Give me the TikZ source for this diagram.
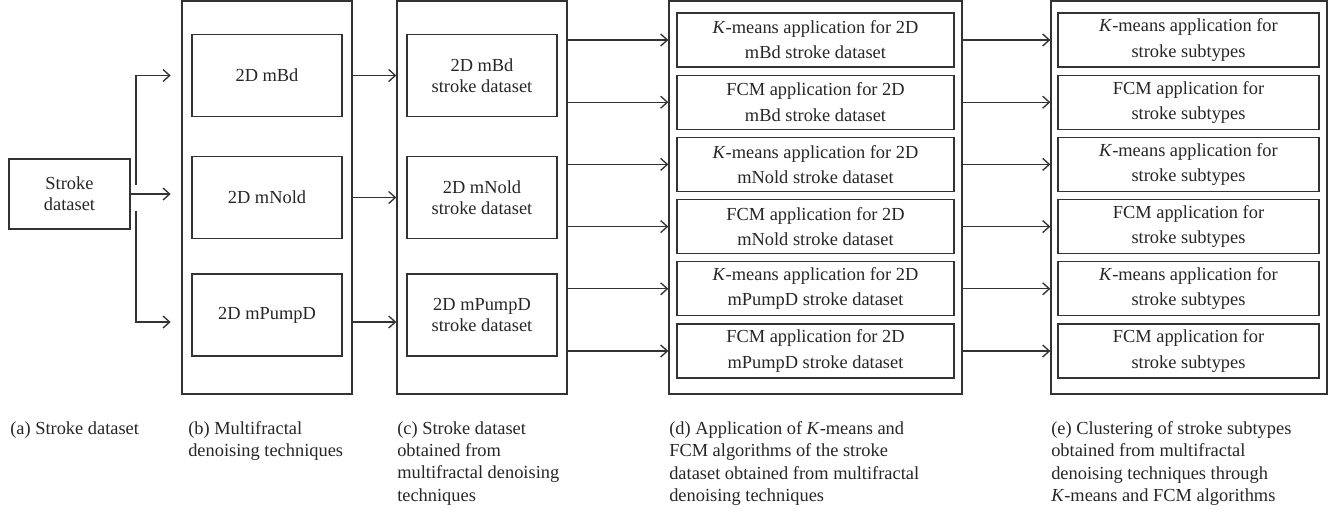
\documentclass[tikz,border=0pt]{standalone}
\usepackage{fontspec}
\setmainfont{Liberation Serif}
\usepackage{xcolor}
\usetikzlibrary{arrows.meta,positioning}

\definecolor{lineg}{HTML}{333333}
\definecolor{txtg}{HTML}{262626}
\tikzset{
  frame/.style={draw=lineg,line width=1pt,inner sep=0pt},
  stepbox/.style={frame,align=center,text=txtg,font=\fontsize{13.8}{15.9}\selectfont,
    minimum width=112.5pt,minimum height=61.5pt},
  algbox/.style={frame,align=center,text=txtg,font=\fontsize{13.8}{18.9}\selectfont,
    minimum height=40.5pt},
  outerbox/.style={frame,minimum height=294.75pt},
  captext/.style={anchor=north west,align=left,inner sep=0pt,text=txtg,
    font=\fontsize{13.8}{16.8}\selectfont},
  arr/.style={->,draw=lineg,line width=1pt}
}

\begin{document}
\begin{tikzpicture}[x=0.75pt,y=-0.75pt,>={Straight Barb[length=5pt,width=9pt]}]
\useasboundingbox (0,0) rectangle (1336,511);
% input data
\node[frame,align=center,text=txtg,font=\fontsize{13.8}{15.9}\selectfont,
  minimum width=90.75pt,minimum height=52.5pt] (data) at (69.5,194) {Stroke\\dataset};
% outer frames
\node[outerbox,minimum width=127.5pt] (bout) at (267,197.5) {};
\node[outerbox,minimum width=127.5pt] (cout) at (482,197.5) {};
\node[outerbox,minimum width=219.75pt] (dout) at (815.5,197.5) {};
\node[outerbox,minimum width=207pt] (eout) at (1189,197.5) {};
% denoising
\node[stepbox] (b1) at (267,75.5) {2D mBd};
\node[stepbox] (b2) at (267,197.5) {2D mNold};
\node[stepbox] (b3) at (267,315) {2D mPumpD};
\node[stepbox] (c1) at (482,75.5) {2D mBd\\stroke dataset};
\node[stepbox] (c2) at (482,197.5) {2D mNold\\stroke dataset};
\node[stepbox] (c3) at (482,315) {2D mPumpD\\stroke dataset};
% clustering
\node[algbox,minimum width=207.75pt] (d1) at (815.5,40) {\textit{K}-means application for 2D\\mBd stroke dataset};
\node[algbox,minimum width=207.75pt] (d2) at (815.5,102.2) {FCM application for 2D\\mBd stroke dataset};
\node[algbox,minimum width=207.75pt] (d3) at (815.5,164.4) {\textit{K}-means application for 2D\\mNold stroke dataset};
\node[algbox,minimum width=207.75pt] (d4) at (815.5,226.6) {FCM application for 2D\\mNold stroke dataset};
\node[algbox,minimum width=207.75pt] (d5) at (815.5,288.8) {\textit{K}-means application for 2D\\mPumpD stroke dataset};
\node[algbox,minimum width=207.75pt] (d6) at (815.5,351) {FCM application for 2D\\mPumpD stroke dataset};
\node[algbox,minimum width=195.75pt] (e1) at (1188.5,40) {\textit{K}-means application for\\stroke subtypes};
\node[algbox,minimum width=195.75pt] (e2) at (1188.5,102.2) {FCM application for\\stroke subtypes};
\node[algbox,minimum width=195.75pt] (e3) at (1188.5,164.4) {\textit{K}-means application for\\stroke subtypes};
\node[algbox,minimum width=195.75pt] (e4) at (1188.5,226.6) {FCM application for\\stroke subtypes};
\node[algbox,minimum width=195.75pt] (e5) at (1188.5,288.8) {\textit{K}-means application for\\stroke subtypes};
\node[algbox,minimum width=195.75pt] (e6) at (1188.5,351) {FCM application for\\stroke subtypes};
% captions
\node[captext] (capa) at (10,421) {(a) Stroke dataset};
\node[captext] (capb) at (188,421) {(b) Multifractal\\denoising techniques};
\node[captext] (capc) at (397,421) {(c) Stroke dataset\\obtained from\\multifractal denoising\\techniques};
\node[captext] (capd) at (669,421) {(d) Application of \textit{K}-means and\\FCM algorithms of the stroke\\dataset obtained from multifractal\\denoising techniques};
\node[captext] (cape) at (1051,421) {(e) Clustering of stroke subtypes\\obtained from multifractal\\denoising techniques through\\\textit{K}-means and FCM algorithms};
% fork
\coordinate (ftop) at (136,185);
\coordinate (fbot) at (136,211);
\coordinate (rowc) at (0,322);
\draw[arr,shorten >=8pt](ftop)|-(b1-|bout.west);
\draw[arr,shorten >=8pt](data.east)--(data.east-|bout.west);
\draw[arr,shorten >=8pt](fbot)|-(rowc-|bout.west);
% between stages
\draw[arr](b1-|bout.east)--(b1-|cout.west);
\draw[arr](b2-|bout.east)--(b2-|cout.west);
\draw[arr](rowc-|bout.east)--(rowc-|cout.west);
\draw[arr](d1-|cout.east)--(d1-|dout.west);
\draw[arr](d2-|cout.east)--(d2-|dout.west);
\draw[arr](d3-|cout.east)--(d3-|dout.west);
\draw[arr](d4-|cout.east)--(d4-|dout.west);
\draw[arr](d5-|cout.east)--(d5-|dout.west);
\draw[arr](d6-|cout.east)--(d6-|dout.west);
\draw[arr](d1-|dout.east)--(e1-|eout.west);
\draw[arr](d2-|dout.east)--(e2-|eout.west);
\draw[arr](d3-|dout.east)--(e3-|eout.west);
\draw[arr](d4-|dout.east)--(e4-|eout.west);
\draw[arr](d5-|dout.east)--(e5-|eout.west);
\draw[arr](d6-|dout.east)--(e6-|eout.west);
\end{tikzpicture}
\end{document}
